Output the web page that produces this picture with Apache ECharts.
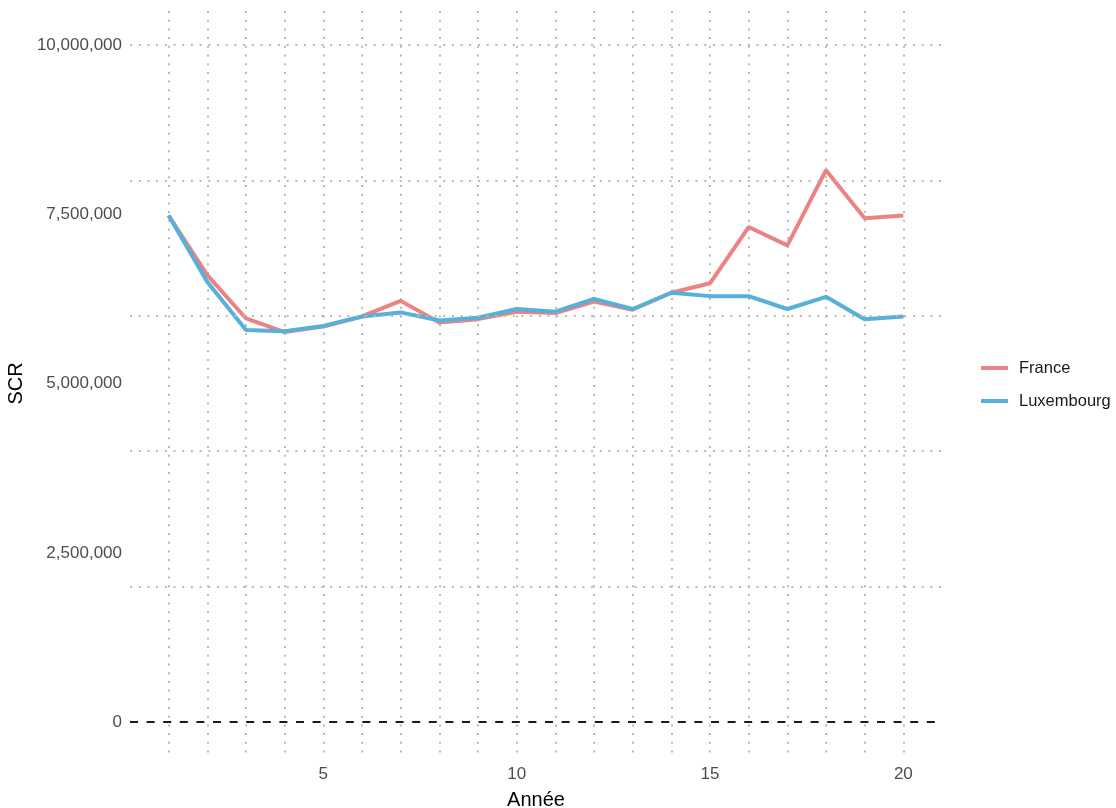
<!DOCTYPE html>
<html>
<head>
<meta charset="utf-8">
<script src="https://cdn.jsdelivr.net/npm/echarts@6/dist/echarts.min.js"></script>
<style>
html, body { margin: 0; padding: 0; background: #ffffff; }
#main { width: 1116px; height: 808px; }
</style>
</head>
<body>
<div id="main"></div>
<script>
// data
var annees = [1, 2, 3, 4, 5, 6, 7, 8, 9, 10, 11, 12, 13, 14, 15, 16, 17, 18, 19, 20];
var france = [7480000, 6600000, 5960000, 5760000, 5840000, 5990000, 6220000, 5900000, 5950000, 6060000,
              6040000, 6210000, 6090000, 6340000, 6480000, 7310000, 7040000, 8150000, 7440000, 7480000];
var luxembourg = [7480000, 6500000, 5790000, 5770000, 5850000, 5990000, 6050000, 5930000, 5970000, 6100000,
                  6060000, 6250000, 6100000, 6340000, 6290000, 6290000, 6100000, 6280000, 5950000, 5990000];
var xLabels = [5, 10, 15, 20];
var yLabels = [0, 2500000, 5000000, 7500000, 10000000];
var yGrid = [2000000, 4000000, 6000000, 8000000, 10000000];

var font = 'Liberation Sans, Arial, sans-serif';
var dotted = { color: '#b9b9b9', width: 2, type: [2, 6.7] };

function pairs(vals) {
    return annees.map(function (a, i) { return [a, vals[i]]; });
}

var mainDiv = document.getElementById('main');
var myChart = echarts.init(mainDiv);

var option = {
    backgroundColor: '#ffffff',
    animation: false,
    grid: { left: 130, right: 174, top: 11, bottom: 52, outerBoundsMode: 'none', containLabel: false },
    legend: {
        data: ['France', 'Luxembourg'],
        orient: 'vertical',
        left: 976,
        top: 354,
        icon: 'rect',
        itemWidth: 27,
        itemHeight: 4,
        itemGap: 15,
        textStyle: {
            fontFamily: font,
            fontSize: 16.5,
            color: '#1a1a1a',
            lineHeight: 18,
            padding: [0, 0, 0, 6]
        }
    },
    xAxis: {
        type: 'value',
        min: 0,
        max: 21,
        interval: 1,
        name: 'Année',
        nameLocation: 'middle',
        nameGap: 34,
        nameTextStyle: { fontFamily: font, fontSize: 20, color: '#000000' },
        axisLine: { show: false },
        axisTick: { show: false },
        axisLabel: {
            fontFamily: font,
            fontSize: 17,
            color: '#4d4d4d',
            margin: 10,
            showMinLabel: false,
            showMaxLabel: false,
            formatter: function (v) { return xLabels.indexOf(v) >= 0 ? String(v) : ''; }
        },
        splitLine: { show: true, showMinLine: false, showMaxLine: false, lineStyle: dotted }
    },
    yAxis: {
        type: 'value',
        min: -500000,
        max: 10500000,
        interval: 500000,
        name: 'SCR',
        nameLocation: 'middle',
        nameGap: 99,
        nameRotate: 90,
        nameTextStyle: { fontFamily: font, fontSize: 20, color: '#000000' },
        axisLine: { show: false },
        axisTick: { show: false },
        axisLabel: {
            fontFamily: font,
            fontSize: 17,
            color: '#4d4d4d',
            margin: 8,
            formatter: function (v) {
                return yLabels.indexOf(v) >= 0 ? v.toLocaleString('en-US') : '';
            }
        },
        splitLine: { show: false }
    },
    series: [
        {
            name: 'grille',
            type: 'line',
            data: [],
            z: 1,
            silent: true,
            markLine: {
                silent: true,
                symbol: 'none',
                label: { show: false },
                data: yGrid.map(function (v) { return { yAxis: v, lineStyle: dotted }; })
                    .concat([{ yAxis: 0, lineStyle: { color: '#1a1a1a', width: 2, type: [8, 8.6] } }])
            }
        },
        {
            name: 'France',
            type: 'line',
            z: 3,
            symbol: 'none',
            itemStyle: { color: '#ec8383' },
            lineStyle: { color: '#ec8383', width: 4 },
            data: pairs(france)
        },
        {
            name: 'Luxembourg',
            type: 'line',
            z: 4,
            symbol: 'none',
            itemStyle: { color: '#55b0da' },
            lineStyle: { color: '#55b0da', width: 4 },
            data: pairs(luxembourg)
        }
    ]
};
myChart.setOption(option);
</script>
</body>
</html>
